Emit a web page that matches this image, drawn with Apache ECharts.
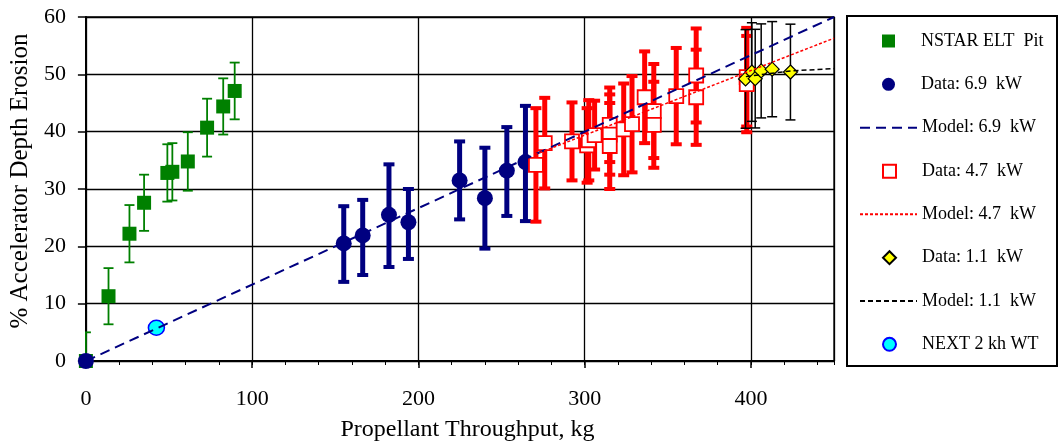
<!DOCTYPE html>
<html><head><meta charset="utf-8">
<script src="https://cdn.jsdelivr.net/npm/echarts@6/dist/echarts.min.js"></script>
<style>html,body{margin:0;padding:0;background:#fff}#c{width:1059px;height:447px}</style>
</head><body><div id="c"></div>
<script>
// ---- data ----
const nstarX = [0, 13.6, 26.2, 35.0, 49.0, 52.0, 61.3, 72.9, 82.6, 89.5];
const nstarY = [0, 11.3, 22.2, 27.6, 32.8, 33.0, 34.8, 40.7, 44.4, 47.1];
const nstarErr = [5, 4.9, 5, 4.9, 5, 5, 5.1, 5.05, 4.9, 4.95];

const d69X = [0, 155.1, 166.5, 182.3, 194.0, 224.8, 240.0, 253.2, 264.4];
const d69Y = [0, 20.5, 21.9, 25.5, 24.2, 31.5, 28.4, 33.2, 34.7];
const d69Low = [0, 13.8, 15.0, 16.4, 17.8, 24.7, 19.6, 25.3, 24.4];
const d69High = [0, 27.0, 28.1, 34.3, 30.0, 38.3, 37.2, 40.8, 44.5];

const m69X = [0, 450];
const m69Y = [0, 60];

const d47X = [270.7, 276.0, 292.4, 301.5, 302.5, 306.0, 315.1, 315.1, 315.1, 323.5, 328.5, 336.1, 341.6, 341.6, 355.1, 367.1, 367.1, 397.5, 397.5];
const d47Y = [34.2, 38.0, 38.3, 37.6, 38.5, 39.4, 41.2, 39.5, 37.5, 40.4, 41.3, 46.0, 43.6, 41.2, 46.2, 49.8, 46.0, 49.5, 48.3];
const d47Err = [9.9, 7.9, 6.8, 6.5, 7.0, 6.0, 6.5, 7.0, 7.5, 8.0, 8.4, 8.0, 8.2, 7.5, 8.4, 8.2, 8.3, 8.6, 8.4];

const m47X = [270, 450];
const m47Y = [36.0, 56.3];

const d11X = [396.8, 400.6, 402.6, 406.2, 412.8, 423.8];
const d11Y = [49.2, 50.4, 49.25, 50.6, 50.9, 50.4];
const d11Err = [8.6, 8.6, 8.6, 8.2, 8.3, 8.35];

const m11X = [397, 424, 450];
const m11Y = [49.6, 50.6, 51.0];

const nextX = [42.4];
const nextY = [5.8];

const xTickInterval = 100;
const yTickInterval = 10;

const names = ['NSTAR ELT  Pit', 'Data: 6.9  kW', 'Model: 6.9  kW', 'Data: 4.7  kW', 'Model: 4.7  kW', 'Data: 1.1  kW', 'Model: 1.1  kW', 'NEXT 2 kh WT'];
const isLineItem = [false, false, true, false, true, false, true, false];

// ---- helpers ----
const zip = (xs, ys) => xs.map((x, i) => [x, ys[i]]);
const errSym = (xs, ys, es) => xs.map((x, i) => [x, ys[i] - es[i], ys[i] + es[i]]);
const errLH = (xs, lo, hi) => xs.map((x, i) => [x, lo[i], hi[i]]);
const FONT = 'Liberation Serif';

function errBar(stem, capW, capH, color) {
  return function (params, api) {
    const x = api.value(0), lo = api.value(1), hi = api.value(2);
    if (lo === hi) return null;
    const a = api.coord([x, lo]), b = api.coord([x, hi]);
    const h = capW / 2;
    return {
      type: 'group', children: [
        { type: 'line', shape: { x1: a[0], y1: a[1], x2: b[0], y2: b[1] }, style: { stroke: color, lineWidth: stem } },
        { type: 'line', shape: { x1: a[0] - h, y1: a[1], x2: a[0] + h, y2: a[1] }, style: { stroke: color, lineWidth: capH } },
        { type: 'line', shape: { x1: b[0] - h, y1: b[1], x2: b[0] + h, y2: b[1] }, style: { stroke: color, lineWidth: capH } }
      ]
    };
  };
}
function errSeries(data, r) {
  return { type: 'custom', name: 'err', data: data, renderItem: r, encode: { x: 0, y: [1, 2] }, clip: true, silent: true };
}

// one legend per row so that marker icons keep their square shape
const rowCenters = [40, 83.3, 126.7, 170.3, 213.3, 256.7, 300, 343.3];
const legends = names.map((n, i) => {
  const line = isLineItem[i];
  return {
    orient: 'vertical', padding: 0, selectedMode: false,
    left: line ? 859 : 882, top: rowCenters[i] - 8,
    itemWidth: line ? 57 : 13, itemHeight: 13,
    data: [line ? { name: n, itemStyle: { color: 'rgba(0,0,0,0)', borderColor: 'rgba(0,0,0,0)', borderWidth: 0, opacity: 0 } } : { name: n }],
    textStyle: { fontFamily: FONT, fontSize: 18, color: '#000', padding: line ? 0 : [0, 0, 0, 21] }
  };
});

const chart = echarts.init(document.getElementById('c'), null, { renderer: 'canvas' });
chart.setOption({
  animation: false,
  backgroundColor: '#fff',
  grid: { left: 84, right: 225, top: 17, bottom: 83, show: true, borderColor: '#000', borderWidth: 1.3, backgroundColor: 'transparent' },
  graphic: [{ type: 'rect', shape: { x: 847, y: 16, width: 210, height: 350 }, style: { fill: '#fff', stroke: '#000', lineWidth: 2 }, z: 0 }],
  legend: legends,
  xAxis: [{
    type: 'value', min: 0, max: 450, interval: xTickInterval,
    axisLine: { show: true, onZero: false, lineStyle: { color: '#000', width: 2 } },
    axisTick: { show: true, length: 7, lineStyle: { color: '#000', width: 1.5 } },
    axisLabel: { showMaxLabel: false, margin: 27, fontFamily: FONT, fontSize: 22, color: '#000' },
    splitLine: { show: true, lineStyle: { color: '#000', width: 1.3 } },
    name: 'Propellant Throughput, kg', nameLocation: 'middle', nameGap: 57,
    nameTextStyle: { fontFamily: FONT, fontSize: 24, color: '#000', padding: [0, 0, 0, 15] }
  }, {
    type: 'value', min: 0, max: 450, interval: 20, position: 'bottom',
    axisLine: { show: false }, axisLabel: { show: false }, splitLine: { show: false },
    axisTick: { show: true, length: 4, lineStyle: { color: '#000', width: 1 } }
  }],
  yAxis: {
    type: 'value', min: 0, max: 60, interval: yTickInterval,
    axisLine: { show: true, lineStyle: { color: '#000', width: 2 } },
    axisTick: { show: true, length: 8, lineStyle: { color: '#000', width: 1.5 } },
    axisLabel: { margin: 20, fontFamily: FONT, fontSize: 22, color: '#000' },
    splitLine: { show: true, lineStyle: { color: '#000', width: 1.3 } },
    name: '% Accelerator Depth Erosion', nameLocation: 'middle', nameGap: 52,
    nameTextStyle: { fontFamily: FONT, fontSize: 25, color: '#000', padding: [0, 0, 0, 16] }
  },
  series: [
    errSeries(errSym(nstarX, nstarY, nstarErr), errBar(1.8, 10, 1.8, '#008000')),
    { type: 'scatter', name: names[0], data: zip(nstarX, nstarY), symbol: 'rect', symbolSize: 14, clip: false,
      itemStyle: { color: '#008000', opacity: 1 } },
    errSeries(errLH(d69X, d69Low, d69High), errBar(5, 11, 4, '#000080')),
    { type: 'scatter', name: names[1], data: zip(d69X, d69Y), symbol: 'circle', symbolSize: 16, clip: false,
      itemStyle: { color: '#000080', opacity: 1 } },
    { type: 'line', name: names[2], data: zip(m69X, m69Y), symbol: 'none', clip: true,
      lineStyle: { color: '#000080', width: 2, type: [10, 6] }, itemStyle: { color: '#000080' } },
    errSeries(errSym(d47X, d47Y, d47Err), errBar(5, 11, 4, '#FF0000')),
    { type: 'scatter', name: names[3], data: zip(d47X, d47Y), symbol: 'rect', symbolSize: 14, clip: false,
      itemStyle: { color: '#FFFFFF', borderColor: '#FF0000', borderWidth: 1.8, opacity: 1 } },
    { type: 'line', name: names[4], data: zip(m47X, m47Y), symbol: 'none', clip: true,
      lineStyle: { color: '#FF0000', width: 1.5, type: [3, 2] }, itemStyle: { color: '#FF0000' } },
    errSeries(errSym(d11X, d11Y, d11Err), errBar(1.5, 10, 1.5, '#000000')),
    { type: 'scatter', name: names[5], data: zip(d11X, d11Y), symbol: 'diamond', symbolSize: 14, clip: false,
      itemStyle: { color: '#FFFF00', borderColor: '#000', borderWidth: 1.2, opacity: 1 } },
    { type: 'line', name: names[6], data: zip(m11X, m11Y), symbol: 'none', clip: true,
      lineStyle: { color: '#000', width: 1.5, type: [5, 3] }, itemStyle: { color: '#000' } },
    { type: 'scatter', name: names[7], data: zip(nextX, nextY), symbol: 'circle', symbolSize: [16, 15], clip: false,
      itemStyle: { color: '#00FFFF', borderColor: '#0000FF', borderWidth: 1.5, opacity: 1 } }
  ]
});
</script></body></html>
